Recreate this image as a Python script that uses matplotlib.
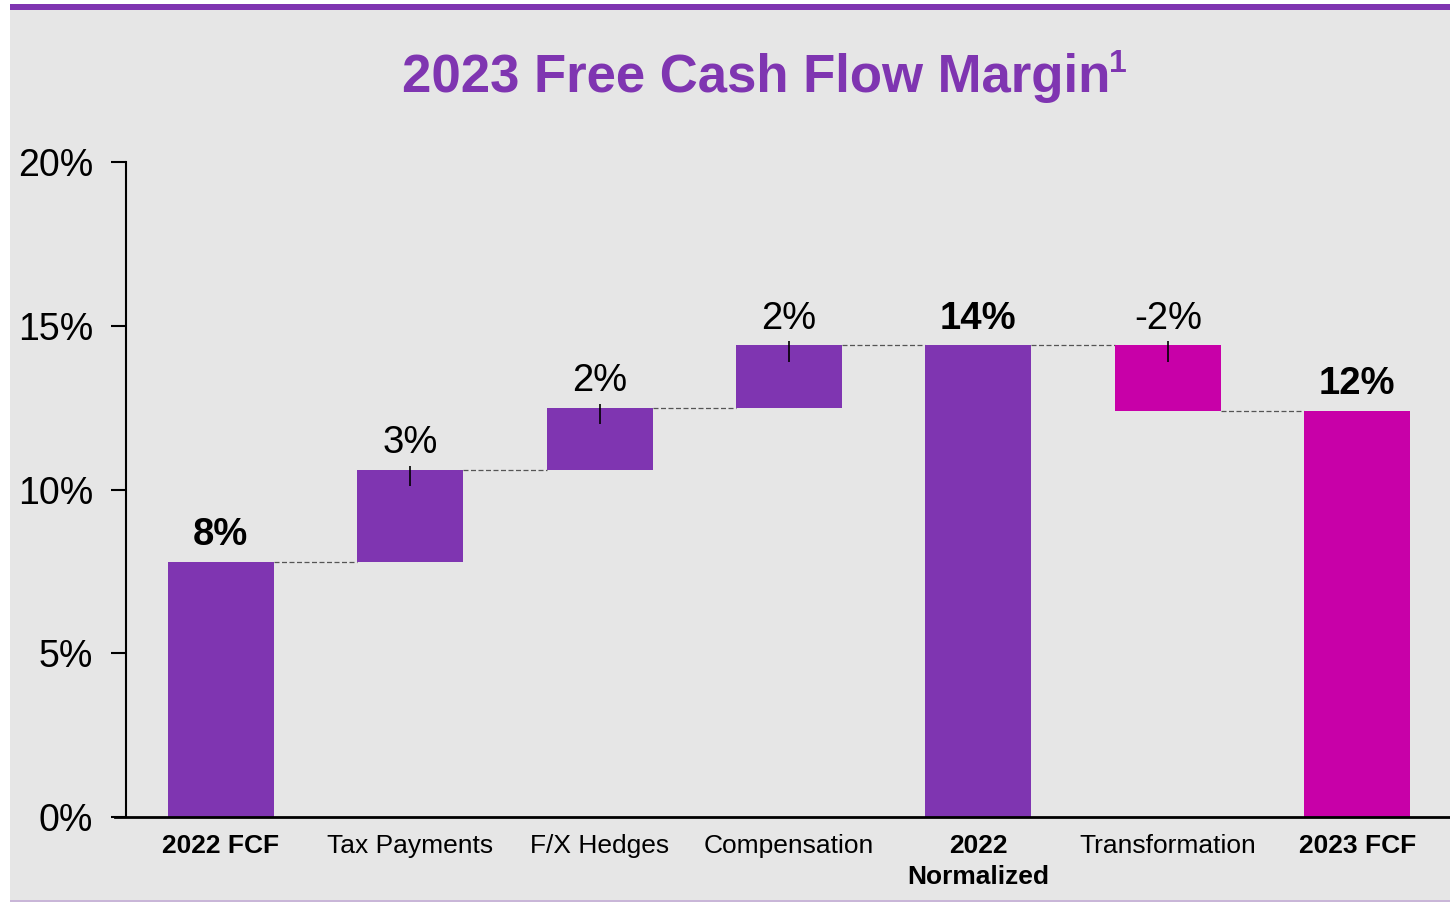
import matplotlib.pyplot as plt
import matplotlib.patches as patches

plt.rcParams['font.family'] = ['Liberation Sans', 'DejaVu Sans']

# data (percent of revenue)
categories = ['2022 FCF', 'Tax Payments', 'F/X Hedges', 'Compensation',
              '2022\nNormalized', 'Transformation', '2023 FCF']
values = [7.8, 2.8, 1.9, 1.9, 14.4, -2.0, 12.4]
kinds = ['total', 'delta', 'delta', 'delta', 'total', 'delta', 'total']
value_labels = ['8%', '3%', '2%', '2%', '14%', '-2%', '12%']
bar_colors = ['#7F35B1', '#7F35B1', '#7F35B1', '#7F35B1', '#7F35B1', '#C800A8', '#C800A8']
yticks = [0, 5, 10, 15, 20]

PURPLE = '#7F35B1'
BG = '#E6E6E6'

fig = plt.figure(figsize=(14.5, 9.02), dpi=100, facecolor='white')

# gray panel, purple rule on top
fig.patches.append(patches.Rectangle((10 / 1450, 2 / 902), 1 - 10 / 1450, 890 / 902,
                                     transform=fig.transFigure, facecolor=BG,
                                     edgecolor='none', zorder=-2))
fig.patches.append(patches.Rectangle((10 / 1450, (902 - 10) / 902), 1 - 10 / 1450, 6 / 902,
                                     transform=fig.transFigure, facecolor=PURPLE,
                                     edgecolor='none', zorder=-1))
fig.patches.append(patches.Rectangle((10 / 1450, 0), 1 - 10 / 1450, 2 / 902,
                                     transform=fig.transFigure, facecolor='#C9B6D8',
                                     edgecolor='none', zorder=-1))

fig.text(756 / 1450, (902 - 92) / 902, '2023 Free Cash Flow Margin',
         ha='center', va='baseline', fontsize=38, fontweight='bold', color=PURPLE)
fig.text(1109 / 1450, (902 - 72) / 902, '1',
         ha='left', va='baseline', fontsize=23, fontweight='bold', color=PURPLE)

ax = fig.add_axes([126 / 1450, (902 - 817) / 902, 1326 / 1450, 655 / 902])
ax.set_facecolor('none')
ax.set_zorder(5)

width = 0.56
running = 0
tops = []
for i, (v, k) in enumerate(zip(values, kinds)):
    if k == 'total':
        bottom, height = 0, v
        running = v
    else:
        bottom = running if v >= 0 else running + v
        height = abs(v)
        running += v
    ax.bar(i, height, bottom=bottom, width=width, color=bar_colors[i], zorder=2)
    top = bottom + height
    tops.append((top, running))
    bold = 'bold' if k == 'total' else 'normal'
    ax.text(i, top + 0.26, value_labels[i], ha='center', va='bottom',
            fontsize=27.5, fontweight=bold, color='black')
    if k == 'delta':
        ax.vlines(i, top - 0.5, top + 0.12, color='black', lw=1.2, zorder=3)

# dashed connectors between consecutive bars
for i in range(len(values) - 1):
    level = tops[i][1]
    ax.plot([i + width / 2, i + 1 - width / 2], [level, level],
            ls=(0, (4, 2)), color='#555555', lw=0.9, zorder=1)

ax.set_xlim(-0.5, 6.5)
ax.set_ylim(0, 20)
ax.set_yticks(yticks)
ax.set_yticklabels([f'{t}%' for t in yticks], fontsize=27)
ax.set_xticks(range(len(categories)))
ax.set_xticklabels(categories, fontsize=19, linespacing=1.4)
for lbl, k in zip(ax.get_xticklabels(), kinds):
    if k == 'total':
        lbl.set_fontweight('bold')
ax.tick_params(axis='x', length=0, pad=12)
ax.tick_params(axis='y', length=11, width=1.5, pad=12.5)
ax.spines['top'].set_visible(False)
ax.spines['right'].set_visible(False)
ax.spines['left'].set_linewidth(1.5)
ax.spines['bottom'].set_linewidth(2)
ax.spines['bottom'].set_bounds(-0.5 - 11 / 189.4, 6.5)

fig.savefig('out.png', dpi=100, facecolor='white')
